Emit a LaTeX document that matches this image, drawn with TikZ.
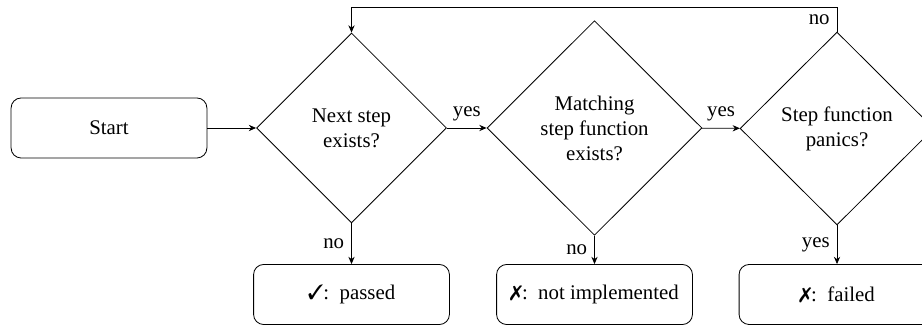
\documentclass[tikz,border=0pt]{standalone}
\usepackage{fontspec}
\setmainfont{Liberation Serif}
\usepackage{pifont}
\usetikzlibrary{shapes.geometric,arrows.meta}
\begin{document}
\begin{tikzpicture}[x=0.48pt,y=-0.48pt,
  box/.style={draw,rounded corners=4.8pt,minimum width=94pt,minimum height=28.8pt,inner sep=0pt},
  dec/.style={draw,diamond,aspect=1,inner sep=0pt,align=center},
  arr/.style={-{Stealth[length=3.5pt,width=3pt]}}]
\useasboundingbox (0,0) rectangle (922,326);
\node[box] (start) at (109,128) {Start};
\node[dec,minimum width=91.2pt,minimum height=91.2pt] (d1) at (351.5,128) {Next step\\exists?};
\node[dec,minimum width=103.2pt,minimum height=103pt] (d2) at (594.5,128) {Matching\\step function\\exists?};
\node[dec,minimum width=93pt,minimum height=92.6pt] (d3) at (837,128.5) {Step function\\panics?};
\node[box] (b1) at (351.5,294.5) {\ding{51}:\enskip passed};
\node[box] (b2) at (594.5,294.5) {\ding{55}:\enskip not implemented};
\node[box] (b3) at (837,294.5) {\ding{55}:\enskip failed};
\coordinate (top) at (0,7);
\draw[arr] (start) -- (d1);
\draw[arr] (d1) -- node[above] {yes} (d2);
\draw[arr] (d2) -- node[above] {yes} (d3);
\draw[arr] (d1) -- node[left] {no} (b1);
\draw[arr] (d2) -- node[left] {no} (b2);
\draw[arr] (d3) -- node[left] {yes} (b3);
\draw[arr] (d3.north) -- node[left] {no} (d3.north |- top) -| (d1.north);
\end{tikzpicture}
\end{document}
